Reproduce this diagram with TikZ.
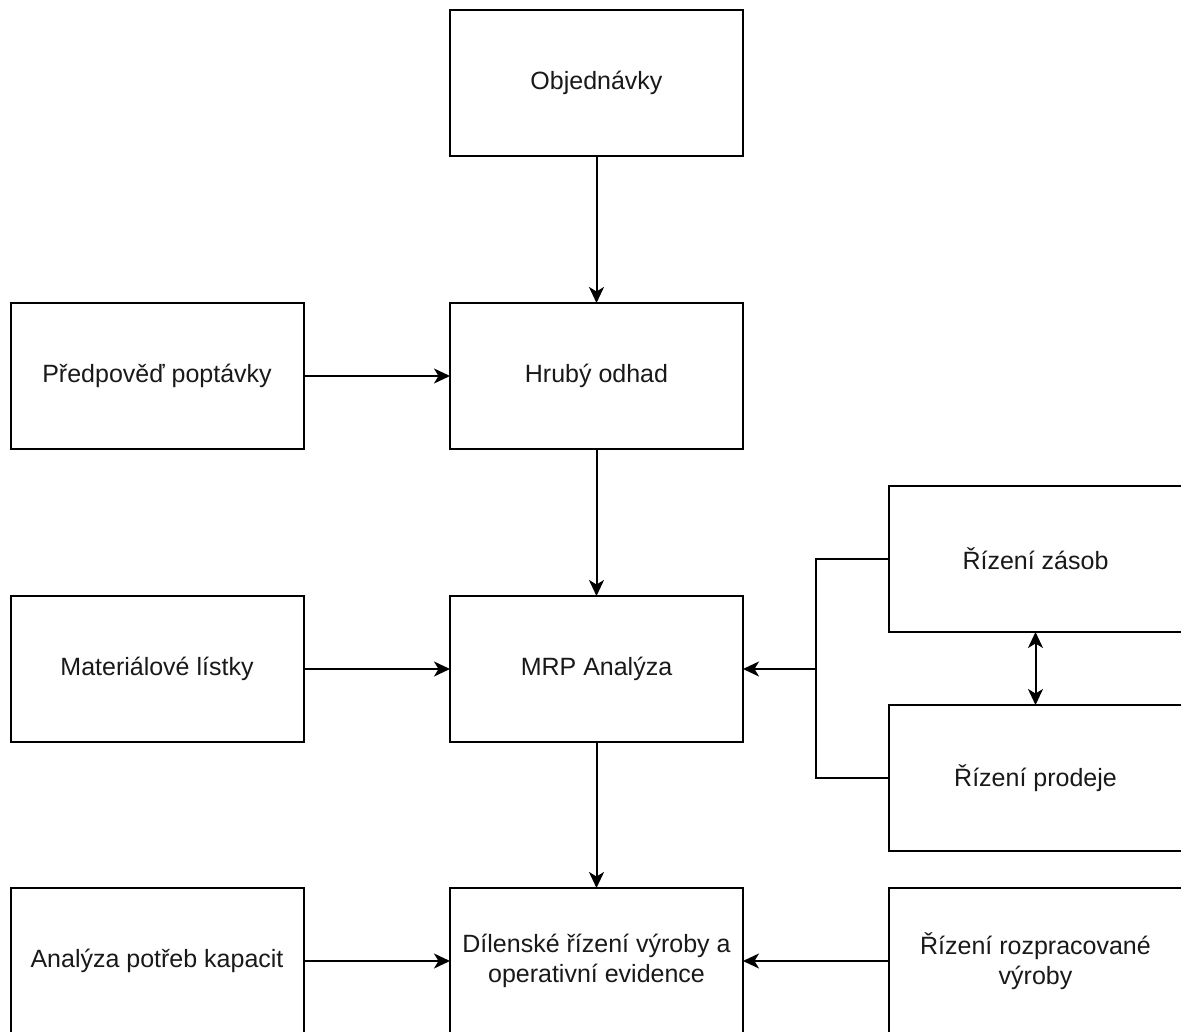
\documentclass[tikz,border=0pt]{standalone}
\usepackage{fontspec}
\setmainfont{Liberation Sans}
\usetikzlibrary{arrows.meta}
\begin{document}
\begin{tikzpicture}[x=1pt,y=-1pt,
  box/.style={draw, line width=2pt, minimum width=293pt, minimum height=146pt,
    inner sep=0pt, outer sep=0pt, align=center, anchor=north west,
    font=\fontsize{25}{30}\selectfont, text=black!90},
  link/.style={line width=2pt},
  tip/.style={Stealth[length=16pt,width=15pt,inset=4.5pt]},
  flow/.style={link, -{Stealth[length=16pt,width=15pt,inset=4.5pt]}},
  both/.style={link, {Stealth[length=16pt,width=15pt,inset=4.5pt]}-{Stealth[length=16pt,width=15pt,inset=4.5pt]}}]
\useasboundingbox (0,0) rectangle (1181,1032);
\fill[white] (0,0) rectangle (1181,1032);

% main column
\node[box] (obj)  at (450,10)  {Objednávky};
\node[box] (hrub) at (450,303) {Hrubý odhad};
\node[box] (mrp)  at (450,596) {MRP Analýza};
\node[box] (dil)  at (450,888) {Dílenské řízení výroby a\\operativní evidence};

% left inputs
\node[box] (pred) at (10.5,303) {Předpověď poptávky};
\node[box] (mat)  at (10.5,596) {Materiálové lístky};
\node[box] (anal) at (10.5,888) {Analýza potřeb kapacit};

% right inputs
\node[box] (zas)  at (889,486) {Řízení zásob};
\node[box] (prod) at (889,705) {Řízení prodeje};
\node[box] (roz)  at (889,888) {Řízení rozpracované\\výroby};

% vertical flow
\draw[flow] (obj.south) -- (hrub.north);
\draw[flow] (hrub.south) -- (mrp.north);
\draw[flow] (mrp.south) -- (dil.north);

% horizontal inputs
\draw[flow] (pred.east) -- (hrub.west);
\draw[flow] (mat.east) -- (mrp.west);
\draw[flow] (anal.east) -- (dil.west);
\draw[flow] (roz.west) -- (dil.east);

% stock and sales merge into MRP
\coordinate (j) at (816,669);
\draw[link] (zas.west) -| (j) |- (prod.west);
\draw[flow] (j) -- (mrp.east);
\draw[both] (zas.south) -- (prod.north);
\end{tikzpicture}
\end{document}
